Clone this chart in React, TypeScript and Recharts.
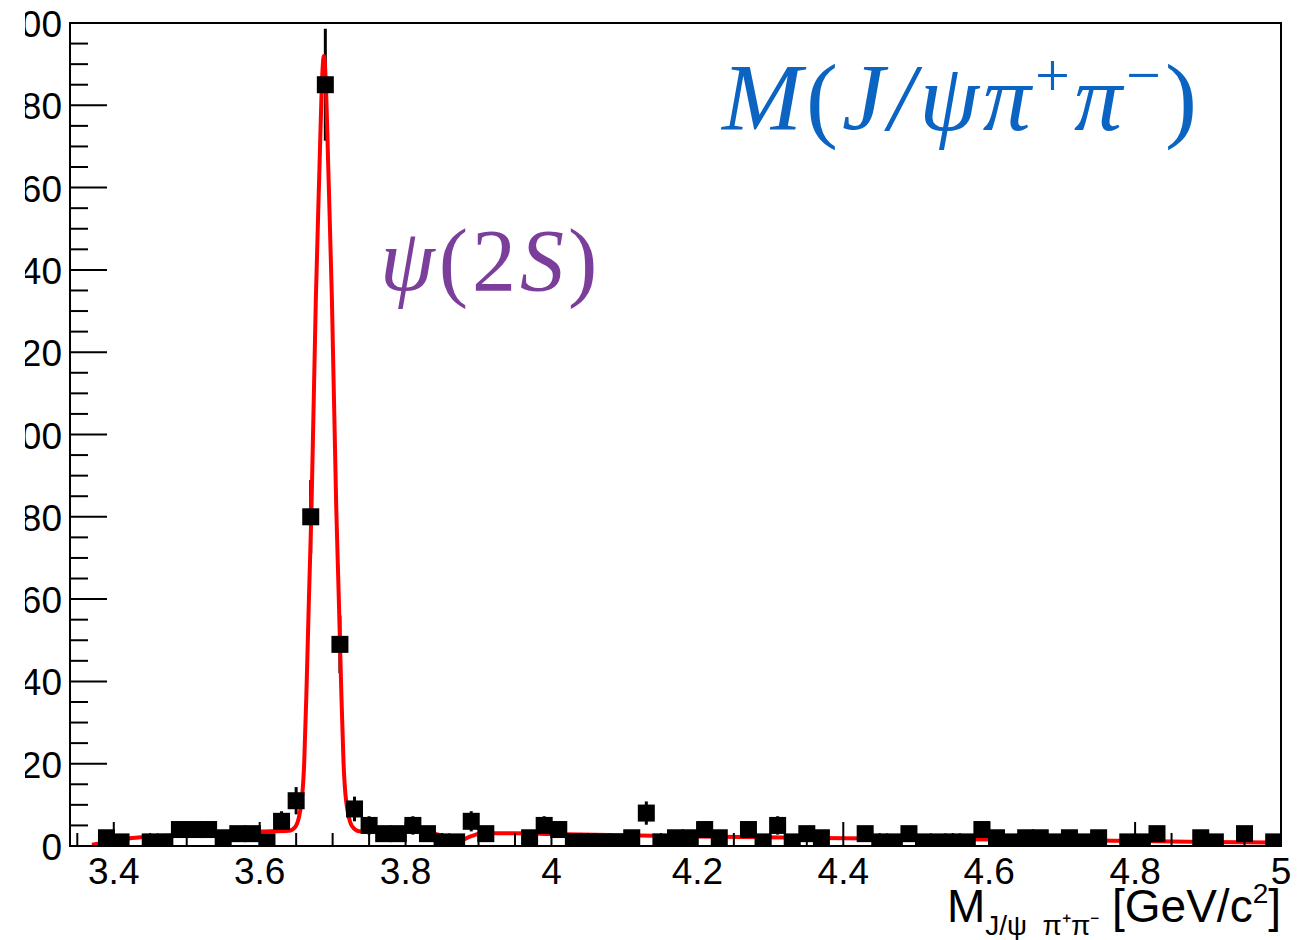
import React from "react";
import {
  ComposedChart,
  XAxis,
  YAxis,
  Scatter,
  Line,
  ErrorBar,
  ReferenceArea,
} from "recharts";

// histogram binning: 3.34 - 5.00 GeV/c^2, 20 MeV bins
const histLow = 3.34;
const binWidth = 0.02;

// candidates per bin
const counts = [
  0, 0, 2, 1, 0, 1, 1, 4, 4, 4,
  2, 3, 3, 1, 6, 11, 80, 185, 49, 9,
  5, 3, 3, 5, 3, 1, 1, 6, 3, 0,
  0, 2, 5, 4, 1, 1, 1, 1, 2, 8,
  1, 2, 2, 4, 2, 0, 4, 1, 5, 1,
  3, 2, 0, 0, 3, 1, 1, 3, 1, 1,
  1, 1, 4, 2, 1, 2, 2, 1, 2, 1,
  2, 0, 1, 1, 3, 0, 0, 2, 1, 0,
  3, 0, 1,
];

// fit curve (signal + background), sampled from the red line
const fitMass = [
  3.37, 3.4, 3.42, 3.45, 3.5, 3.55, 3.6, 3.64, 3.649, 3.6575,
  3.661, 3.6645, 3.6675, 3.671, 3.677, 3.682, 3.685, 3.688, 3.691, 3.694,
  3.699, 3.705, 3.7085, 3.7115, 3.715, 3.7185, 3.727, 3.736, 3.75, 3.8,
  3.83, 3.853, 3.873, 3.89, 3.905, 3.95, 4.0, 4.2, 4.4, 4.6,
  4.8, 5.0,
];
const fitYield = [
  0.3, 1.2, 1.8, 2.3, 2.8, 3.2, 3.5, 3.7, 4.7, 11,
  20, 40, 60, 82, 133, 165, 184, 192, 184, 165,
  133, 82, 60, 40, 20, 11, 4.7, 3.6, 3.5, 3.5,
  3.2, 2.4, 1.2, 2.4, 3.1, 3.1, 2.9, 2.3, 1.9, 1.6,
  1.2, 0.8,
];

const xMajorTicks = [3.4, 3.6, 3.8, 4, 4.2, 4.4, 4.6, 4.8, 5];
const xMajorLabels = ["3.4", "3.6", "3.8", "4", "4.2", "4.4", "4.6", "4.8", "5"];
const xMinorTicks = [
  3.35, 3.45, 3.5, 3.55, 3.65, 3.7, 3.75, 3.85, 3.9, 3.95, 4.05, 4.1, 4.15,
  4.25, 4.3, 4.35, 4.45, 4.5, 4.55, 4.65, 4.7, 4.75, 4.85, 4.9, 4.95,
];
const yMajorTicks = [0, 20, 40, 60, 80, 100, 120, 140, 160, 180, 200];
const yMajorLabels = ["0", "20", "40", "60", "80", "100", "120", "140", "160", "180", "200"];
const yMinorTicks = [
  5, 10, 15, 25, 30, 35, 45, 50, 55, 65, 70, 75, 85, 90, 95, 105, 110, 115,
  125, 130, 135, 145, 150, 155, 165, 170, 175, 185, 190, 195,
];

const W = 1282;
const H = 940;
const PLOT_LEFT = 45;
const PLOT_TOP = 23;
const PLOT_BOTTOM = 846;
const SANS = "'Liberation Sans', Arial, Helvetica, sans-serif";
const SERIF = "'Liberation Serif', 'Times New Roman', serif";

// empty bins are not drawn (ROOT default); Poisson errors
const histPoints = counts
  .map((v, i) => ({ x: histLow + binWidth * (i + 0.5), v, err: Math.sqrt(v) }))
  .filter((p) => p.v > 0);

const fitPoints = fitMass.map((m, i) => ({ x: m, y: fitYield[i] }));

function findIdx(arr: number[], v: number) {
  return arr.findIndex((t) => Math.abs(t - v) < 1e-9);
}

function XTick(props: any) {
  const { x, payload } = props;
  const idx = findIdx(xMajorTicks, payload.value);
  const major = idx >= 0;
  return (
    <g>
      <line x1={x} x2={x} y1={PLOT_BOTTOM} y2={PLOT_BOTTOM - (major ? 24 : 13)} stroke="#000" strokeWidth={2} />
      {major && (
        <text x={x} y={884} textAnchor="middle" fontSize={37} fontFamily={SANS} fill="#000">
          {xMajorLabels[idx]}
        </text>
      )}
    </g>
  );
}

function YTick(props: any) {
  const { y, payload } = props;
  const idx = findIdx(yMajorTicks, payload.value);
  const major = idx >= 0;
  return (
    <g>
      <line x1={PLOT_LEFT} x2={PLOT_LEFT + (major ? 37 : 18)} y1={y} y2={y} stroke="#000" strokeWidth={2} />
      {major && (
        <text x={37} y={y + 14} textAnchor="end" fontSize={37} fontFamily={SANS} fill="#000">
          {yMajorLabels[idx]}
        </text>
      )}
    </g>
  );
}

const Square = (p: any) => (
  <rect x={p.cx - 8.5} y={p.cy - 8.5} width={17} height={17} fill="#000" />
);

export default function App() {
  const xTicks = [...xMajorTicks, ...xMinorTicks].sort((a, b) => a - b);
  const yTicks = [...yMajorTicks, ...yMinorTicks].sort((a, b) => a - b);

  return (
    <div style={{ position: "absolute", left: 0, top: 0, width: 1307, height: 940, background: "#fff", overflow: "hidden" }}>
      <div style={{ position: "absolute", left: 25, top: 0, width: W, height: H, overflow: "hidden" }}>
        <ComposedChart width={W} height={H} margin={{ top: PLOT_TOP, right: 26, bottom: 0, left: 0 }}>
          <XAxis
            type="number"
            dataKey="x"
            domain={[3.34, 5.0]}
            allowDataOverflow
            ticks={xTicks}
            interval={0}
            height={94}
            axisLine={false}
            tickLine={false}
            tick={XTick}
          />
          <YAxis
            type="number"
            domain={[0, 200]}
            allowDataOverflow
            ticks={yTicks}
            interval={0}
            width={45}
            axisLine={false}
            tickLine={false}
            tick={YTick}
          />
          <ReferenceArea x1={3.34} x2={5.0} y1={0} y2={200} fill="none" stroke="#000" strokeWidth={2} ifOverflow="visible" />
          <Scatter data={histPoints} dataKey="v" shape={Square} isAnimationActive={false}>
            <ErrorBar dataKey="err" direction="y" width={0} stroke="#000" strokeWidth={3} />
          </Scatter>
          <Line
            data={fitPoints}
            dataKey="y"
            type="monotone"
            stroke="#ff0000"
            strokeWidth={4}
            dot={false}
            activeDot={false}
            isAnimationActive={false}
          />
        </ComposedChart>
      </div>
      <svg width={1307} height={940} style={{ position: "absolute", left: 0, top: 0, pointerEvents: "none" }}>
        <text x={722} y={130} fontFamily={SERIF} fontStyle="italic" fontSize={96} letterSpacing={4} fill="#0b64c1">
          M<tspan fontStyle="normal">(</tspan>J/ψπ
          <tspan fontStyle="normal" fontSize={62} dy={-34}>+</tspan>
          <tspan dy={34}>π</tspan>
          <tspan fontStyle="normal" fontSize={62} dy={-34}>−</tspan>
          <tspan fontStyle="normal" dy={34}>)</tspan>
        </text>
        <text x={380} y={290} fontFamily={SERIF} fontSize={88} letterSpacing={4} fill="#7b3f9b">
          <tspan fontStyle="italic">ψ</tspan>(2<tspan fontStyle="italic">S</tspan>)
        </text>
        <text x={1281} y={922} textAnchor="end" fontFamily={SANS} fontSize={46} fill="#000">
          M
          <tspan fontSize={28} dy={13}>J/ψ{"\u00a0\u00a0"}π⁺π⁻</tspan>
          <tspan dy={-13}>{"\u00a0"}[GeV/c</tspan>
          <tspan fontSize={28} dy={-19}>2</tspan>
          <tspan dy={19}>]</tspan>
        </text>
      </svg>
    </div>
  );
}
